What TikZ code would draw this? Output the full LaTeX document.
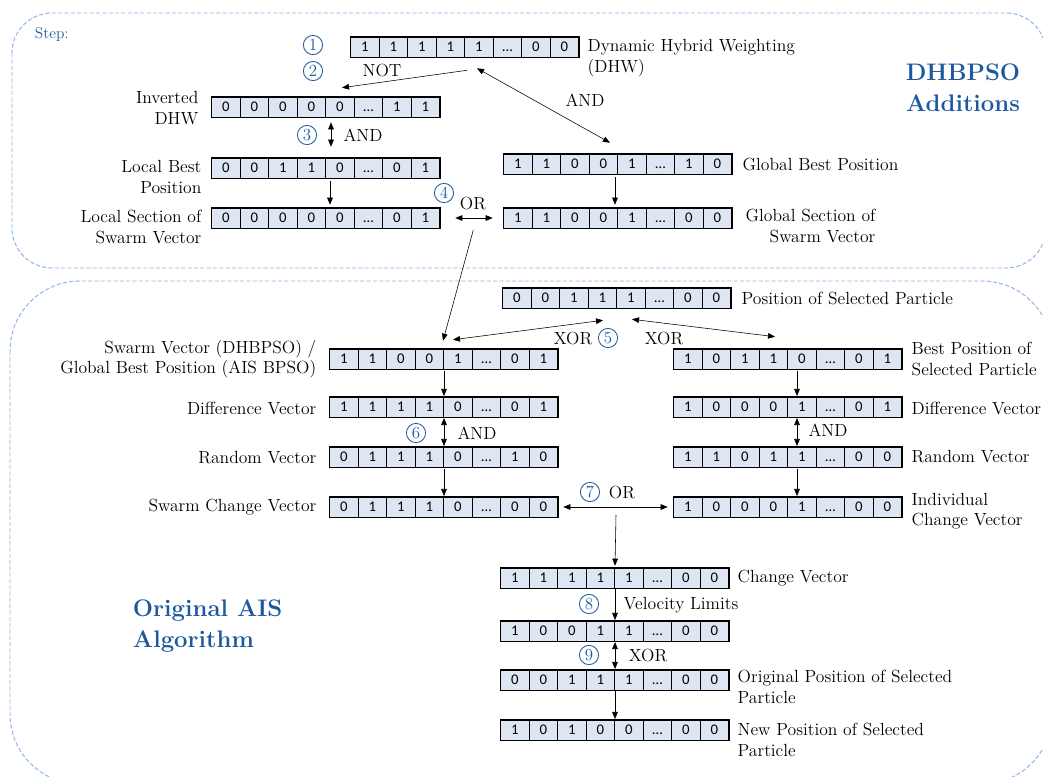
\documentclass[tikz,border=0pt]{standalone}
\usepackage{fontspec}
\usepackage{tikz}
\usetikzlibrary{arrows.meta,calc}
\newfontfamily\cellfont{Carlito}
\definecolor{stepblue}{RGB}{30,88,158}
\definecolor{cellfill}{RGB}{222,230,243}
\definecolor{boxline}{RGB}{140,180,235}

% one bit vector: name, centre, eight entries
\newcommand{\bitvec}[3]{%
  \node[vec] (#1) at (#2) {};
  \foreach \b [count=\i] in {#3}
    \node[cell] at ($(#1.west)+(\i*28.5-14.25,0)$) {\b};
  \draw[line width=0.8pt] (#1.south west) rectangle (#1.north east);
}

\begin{document}
\begin{tikzpicture}
  [x=0.025cm,y=-0.025cm,>={Triangle[length=5pt,width=4pt]},
   every node/.style={font=\fontsize{12.5}{14.5}\selectfont},
   cell/.style={draw,fill=cellfill,minimum width=0.7125cm,minimum height=0.5cm,
     inner sep=0pt,text height=7pt,text depth=0pt,line width=0.5pt,
     font=\cellfont\fontsize{10.5}{11}\selectfont},
   vec/.style={minimum width=5.7cm,minimum height=0.5cm,inner sep=0pt},
   lbl/.style={inner sep=1pt},
   stepnum/.style={circle,draw=stepblue,text=stepblue,inner sep=0pt,
     minimum size=0.48cm,line width=0.6pt,font=\fontsize{12}{12}\selectfont},
   region/.style={draw=boxline,dash pattern=on 3pt off 1.5pt,line width=0.7pt},
   head/.style={text=stepblue,font=\bfseries\fontsize{17}{22}\selectfont}]
  \useasboundingbox (0,0) rectangle (1043,776);

  % dashed regions
  \draw[region,rounded corners=1cm] (12,13) rectangle (1046,268);
  \draw[region,rounded corners=1.75cm] (10,281) rectangle (1052,784);
  \node[text=stepblue,anchor=west,font=\fontsize{11}{13}\selectfont] (steplbl) at (30,35) {Step:};
  \node[head,align=center] (dhbpso) at (963,88) {DHBPSO\\Additions};
  \node[head,align=left,anchor=west] (ais) at (128,626) {Original AIS\\Algorithm};

  % DHBPSO part
  \bitvec{dhw}{465,47}{1,1,1,1,1,\ldots,0,0}
  \bitvec{inv}{326,107}{0,0,0,0,0,\ldots,1,1}
  \bitvec{lbest}{326,168}{0,0,1,1,0,\ldots,0,1}
  \bitvec{lsec}{326,218}{0,0,0,0,0,\ldots,0,1}
  \bitvec{gbest}{618,164}{1,1,0,0,1,\ldots,1,0}
  \bitvec{gsec}{618,218}{1,1,0,0,1,\ldots,0,0}

  \node[lbl,anchor=west,align=left] (dhwlbl) at (586,58) {Dynamic Hybrid Weighting\\(DHW)};
  \node[lbl,anchor=east,align=right] (invlbl) at (200,108) {Inverted\\DHW};
  \node[lbl,anchor=east,align=right] (lbestlbl) at (203,177) {Local Best\\Position};
  \node[lbl,anchor=east,align=right] (lseclbl) at (203,227) {Local Section of\\Swarm Vector};
  \node[lbl,anchor=west] (gbestlbl) at (741,164) {Global Best Position};
  \node[lbl,anchor=west,align=right] (gseclbl) at (744,226) {Global Section of\\Swarm Vector};

  \node[stepnum] (s1) at (313,45) {1};
  \node[stepnum] (s2) at (313,71) {2};
  \node[stepnum] (s3) at (307,135) {3};
  \node[stepnum] (s4) at (444,193) {4};
  \node[lbl] (opnot) at (382,70) {NOT};
  \node[lbl] (opand1) at (585,100) {AND};
  \node[lbl] (opand2) at (363,135) {AND};
  \node[lbl] (opor1) at (473,203) {OR};

  \draw[->] ($(dhw.south)+(2,13)$) -- ($(inv.north)+(16,-9)$);
  \draw[<->] ($(dhw.south)+(12,11)$) -- ($(gbest.north)+(-8,-11)$);
  \draw[<->] ($(inv.south)+(5,5)$) -- ($(lbest.north)+(5,-11)$);
  \draw[->] ($(lbest.south)+(4,3)$) -- ($(lsec.north)+(4,-3)$);
  \draw[->] ($(gbest.south)+(-3,3)$) -- ($(gsec.north)+(-3,-3)$);
  \draw[<->] ($(lsec.east)+(15,0)$) -- ($(gsec.west)+(-11,0)$);

  % original AIS part
  \bitvec{pos}{617,298}{0,0,1,1,1,\ldots,0,0}
  \bitvec{swv}{444,359}{1,1,0,0,1,\ldots,0,1}
  \bitvec{sdiff}{444,407}{1,1,1,1,0,\ldots,0,1}
  \bitvec{srand}{444,457}{0,1,1,1,0,\ldots,1,0}
  \bitvec{schg}{444,507}{0,1,1,1,0,\ldots,0,0}
  \bitvec{bpos}{788,359}{1,0,1,1,0,\ldots,0,1}
  \bitvec{idiff}{788,407}{1,0,0,0,1,\ldots,0,1}
  \bitvec{irand}{788,457}{1,1,0,1,1,\ldots,0,0}
  \bitvec{ichg}{788,507}{1,0,0,0,1,\ldots,0,0}
  \bitvec{chg}{615,578}{1,1,1,1,1,\ldots,0,0}
  \bitvec{vel}{615,631}{1,0,0,1,1,\ldots,0,0}
  \bitvec{orig}{615,680}{0,0,1,1,1,\ldots,0,0}
  \bitvec{newp}{615,730}{1,0,1,0,0,\ldots,0,0}

  \draw[->] ($(lsec.east)+(33,12)$) -- ($(swv.north)+(-1,-8)$);

  \node[lbl,anchor=west] (poslbl) at (740,298) {Position of Selected Particle};
  \node[lbl,anchor=east,align=right] (swvlbl) at (318,359) {Swarm Vector (DHBPSO) /\\Global Best Position (AIS BPSO)};
  \node[lbl,anchor=east] (sdifflbl) at (318,408) {Difference Vector};
  \node[lbl,anchor=east] (srandlbl) at (318,458) {Random Vector};
  \node[lbl,anchor=east] (schglbl) at (318,507) {Swarm Change Vector};
  \node[lbl,anchor=west,align=left] (bposlbl) at (910,359) {Best Position of\\Selected Particle};
  \node[lbl,anchor=west] (idifflbl) at (910,408) {Difference Vector};
  \node[lbl,anchor=west] (irandlbl) at (910,457) {Random Vector};
  \node[lbl,anchor=west,align=left] (ichglbl) at (910,511) {Individual\\Change Vector};
  \node[lbl,anchor=west] (chglbl) at (736,578) {Change Vector};
  \node[lbl,anchor=west] (vellbl) at (622,605) {Velocity Limits};
  \node[lbl,anchor=west,align=left] (origlbl) at (736,687) {Original Position of Selected\\Particle};
  \node[lbl,anchor=west,align=left] (newplbl) at (736,740) {New Position of Selected\\Particle};

  \node[stepnum] (s5) at (608,338) {5};
  \node[stepnum] (s6) at (416,433) {6};
  \node[stepnum] (s7) at (590,492) {7};
  \node[stepnum] (s8) at (589,604) {8};
  \node[stepnum] (s9) at (589,655) {9};
  \node[lbl] (opxor1) at (573,338) {XOR};
  \node[lbl] (opxor2) at (664,338) {XOR};
  \node[lbl] (opand3) at (477,433) {AND};
  \node[lbl] (opand4) at (828,430) {AND};
  \node[lbl] (opor2) at (622,492) {OR};
  \node[lbl] (opxor3) at (648,655) {XOR};

  \draw[<->] ($(swv.north)+(9,-9)$) -- ($(pos.south)+(-14,12)$);
  \draw[<->] ($(pos.south)+(15,11)$) -- ($(bpos.north)+(-13,-12)$);
  \foreach \from/\to in {swv/sdiff,srand/schg}
    \draw[->,shorten <=1pt,shorten >=0.5pt] (\from.south) -- (\to.north);
  \draw[<->,shorten <=0.5pt,shorten >=0.5pt] (sdiff.south) -- (srand.north);
  \foreach \from/\to in {bpos/idiff,irand/ichg}
    \draw[->,shorten <=1pt,shorten >=0.5pt] ($(\from.south)+(9,0)$) -- ($(\to.north)+(9,0)$);
  \draw[<->,shorten <=0.5pt,shorten >=0.5pt] ($(idiff.south)+(9,0)$) -- ($(irand.north)+(9,0)$);
  \draw[<->] ($(schg.east)+(5,0)$) -- ($(ichg.west)+(-6,0)$);
  \coordinate (orpt) at ($(schg.east)!0.5!(ichg.west)$);
  \draw[->] ($(orpt)+(0,8)$) -- ($(chg.north)+(0,-2)$);
  \foreach \from/\to in {chg/vel,orig/newp}
    \draw[->,shorten >=0.5pt] (\from.south) -- (\to.north);
  \draw[<->,shorten <=0.5pt,shorten >=0.5pt] (vel.south) -- (orig.north);
\end{tikzpicture}
\end{document}
